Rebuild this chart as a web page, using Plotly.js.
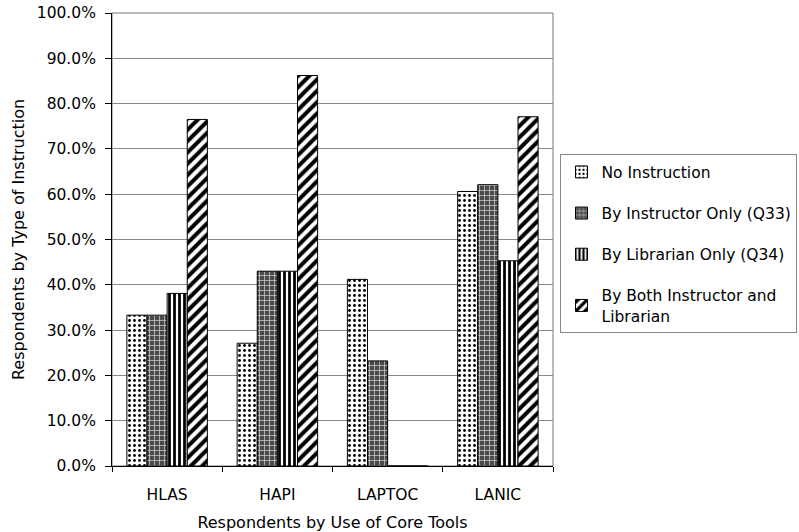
<!DOCTYPE html>
<html>
<head>
<meta charset="utf-8">
<script src="https://cdn.plot.ly/plotly-3.0.1.min.js"></script>
<style>body{margin:0;background:#fff}#chart{width:799px;height:532px}</style>
</head>
<body>
<div id="chart"></div>
<script>
const categories = ["HLAS", "HAPI", "LAPTOC", "LANIC"];
const seriesNames = ["No Instruction", "By Instructor Only (Q33)", "By Librarian Only (Q34)", "By Both Instructor and<br>Librarian"];
const noInstruction = [33.3, 27.1, 41.2, 60.6];
const byInstructor = [33.3, 43.0, 23.2, 62.1];
const byLibrarian = [38.1, 43.0, 0, 45.3];
const byBoth = [76.5, 86.2, 0, 77.1];
const yTicks = [0, 10, 20, 30, 40, 50, 60, 70, 80, 90, 100];

const font = "DejaVu Sans, Verdana, sans-serif";
const patterns = [
  {shape: ".", bgcolor: "#ffffff", fgcolor: "#000000", size: 5, solidity: 0.25},
  {shape: "+", bgcolor: "#4a4a4a", fgcolor: "#d8d8d8", size: 5, solidity: 0.25},
  {shape: "|", bgcolor: "#ffffff", fgcolor: "#000000", size: 5, solidity: 0.55},
  {shape: "/", bgcolor: "#ffffff", fgcolor: "#000000", size: 8, solidity: 0.5}
];
const values = [noInstruction, byInstructor, byLibrarian, byBoth];
const traces = values.map((v, i) => ({
  type: "bar",
  name: seriesNames[i],
  x: categories,
  y: v,
  legendgroup: "g" + i,
  marker: {color: "#ffffff", line: {color: "#000000", width: 1}, pattern: patterns[i]},
  hoverinfo: "skip"
}));

const layout = {
  width: 799, height: 532,
  margin: {l: 112, r: 246, t: 13, b: 66, autoexpand: false},
  paper_bgcolor: "#ffffff", plot_bgcolor: "#ffffff",
  font: {family: font, size: 15, color: "#000000"},
  barmode: "group",
  bargap: 0.27, bargroupgap: 0,
  showlegend: true,
  legend: {
    x: 1.017, xanchor: "left", y: 0.688, yanchor: "top",
    bordercolor: "#888888", borderwidth: 1,
    font: {family: font, size: 15.5},
    traceorder: "grouped", tracegroupgap: 18,
    itemwidth: 30
  },
  xaxis: {
    type: "category",
    automargin: false,
    showline: true, linecolor: "#000000", linewidth: 1,
    ticks: "outside", tickson: "boundaries", ticklen: 5, tickcolor: "#000000",
    tickfont: {family: font, size: 15.5},
    ticklabelstandoff: 14,
    title: {text: "Respondents by Use of Core Tools", font: {family: font, size: 16}, standoff: 14},
    showgrid: false
  },
  yaxis: {
    range: [0, 100],
    automargin: false,
    tickvals: yTicks,
    ticktext: yTicks.map(t => t.toFixed(1) + "%"),
    showline: true, linecolor: "#000000", linewidth: 1,
    ticks: "outside", ticklen: 6, tickcolor: "#000000",
    tickfont: {family: font, size: 15.5},
    ticklabelstandoff: 6,
    showgrid: true, gridcolor: "#8a8a8a", gridwidth: 1,
    zeroline: false,
    title: {text: "Respondents by Type of Instruction", font: {family: font, size: 16}, standoff: 8}
  },
  shapes: [{
    type: "rect", xref: "paper", yref: "paper", x0: 0, x1: 1, y0: 0, y1: 1,
    line: {color: "#777777", width: 1}, layer: "below"
  }]
};

Plotly.newPlot("chart", traces, layout, {staticPlot: true});
</script>
</body>
</html>
